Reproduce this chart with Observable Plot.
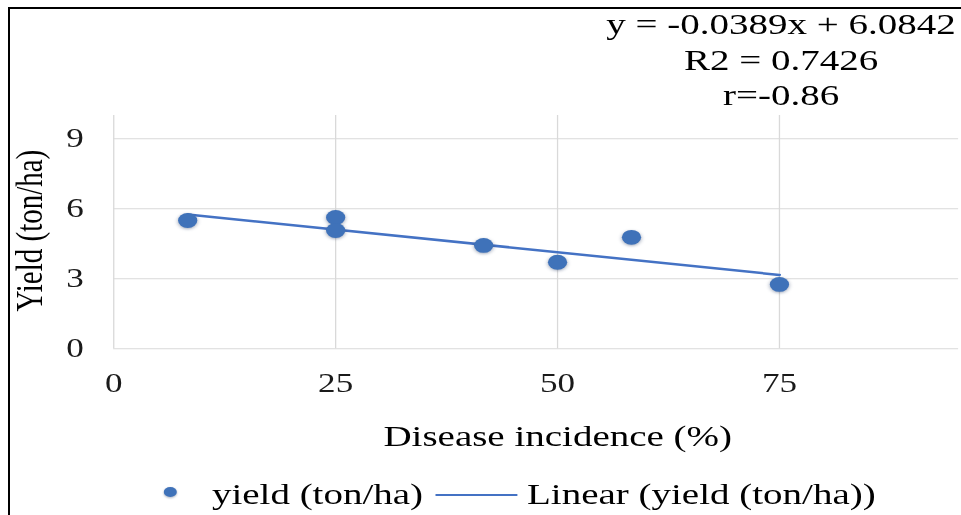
<!DOCTYPE html>
<html>
<head>
<meta charset="utf-8">
<script src="https://cdn.jsdelivr.net/npm/d3@7"></script>
<script src="https://cdn.jsdelivr.net/npm/@observablehq/plot@0.6"></script>
<style>
  html, body { margin: 0; padding: 0; background: #fff; }
  body { width: 961px; height: 515px; overflow: hidden; position: relative; font-family: "Liberation Serif", "Times New Roman", serif; }
  #frame { position: absolute; left: 8px; top: 7px; width: 980px; height: 540px; border-left: 2px solid #000; border-top: 2px solid #000; }
  #wrap { position: absolute; left: 0; top: 0; width: 739px; height: 515px; transform: scaleX(1.3); transform-origin: 0 0; }
  #chart { position: absolute; left: 0; top: 0; }
  g[aria-label="dot"] { filter: drop-shadow(0px 1px 1.5px rgba(40, 60, 100, 0.45)); }
  .eq { position: absolute; left: 600.8px; transform: translateX(-50%); white-space: nowrap; font-size: 30px; line-height: 35.5px; text-align: center; color: #000; }
  .lg { position: absolute; white-space: nowrap; font-size: 30px; line-height: 30px; color: #000; }
</style>
</head>
<body>
<div id="frame"></div>
<div id="wrap">
  <div id="chart"></div>
  <div class="eq" id="eqText" style="top:6px"></div>
  <div id="legend"></div>
</div>
<script>
// ---- data ----
const diseaseIncidence = [8.33, 25, 25, 41.67, 50, 58.33, 75];
const yieldTonHa = [5.50, 5.63, 5.07, 4.43, 3.71, 4.78, 2.76];
const xTicks = [0, 25, 50, 75];
const yTicks = [0, 3, 6, 9];
const slope = -0.0389;
const intercept = 6.0842;
const equationLines = ["y = -0.0389x + 6.0842", "R2 = 0.7426", "r=-0.86"];
const seriesName = "yield (ton/ha)";
const trendName = "Linear (yield (ton/ha))";
const xTitle = "Disease incidence (%)";
const yTitle = "Yield (ton/ha)";

const blue = "#3f72b9";
const lineBlue = "#4472c4";

const points = diseaseIncidence.map((x, i) => ({x, y: yieldTonHa[i]}));
const trend = d3.extent(diseaseIncidence).map(x => ({x, y: slope * x + intercept}));

const chart = Plot.plot({
  width: 739,
  height: 460,
  marginLeft: 87,
  marginRight: 2,
  marginTop: 115,
  marginBottom: 111.7,
  style: {fontFamily: "'Liberation Serif', 'Times New Roman', serif", background: "transparent", overflow: "visible", color: "#000"},
  x: {domain: [0, 95.2]},
  y: {domain: [0, 10]},
  marks: [
    Plot.gridX(xTicks, {stroke: "#d9d9d9", strokeOpacity: 1, strokeWidth: 1}),
    Plot.gridY(yTicks, {stroke: "#d9d9d9", strokeOpacity: 1, strokeWidth: 1}),
    Plot.axisX(xTicks, {tickSize: 0, tickPadding: 24, fontSize: 27, label: null, fill: "#1a1a1a"}),
    Plot.axisY(yTicks, {tickSize: 0, tickPadding: 23, fontSize: 27, label: null, fill: "#1a1a1a"}),
    Plot.line(trend, {x: "x", y: "y", stroke: lineBlue, strokeWidth: 2.5}),
    Plot.dot(points, {x: "x", y: "y", r: 7.4, fill: blue, stroke: "none"}),
    Plot.text([xTitle], {frameAnchor: "bottom", textAnchor: "middle", dx: 16.5, dy: 88, fontSize: 30, lineAnchor: "middle", fill: "#000"}),
    Plot.text([yTitle], {frameAnchor: "left", textAnchor: "middle", rotate: -90, dx: -64.7, dy: -1.5, fontSize: 29, lineAnchor: "middle", fill: "#000"})
  ]
});
document.getElementById("chart").appendChild(chart);

// equation block
document.getElementById("eqText").innerHTML = equationLines.map(t => `<div>${t}</div>`).join("");

// legend
const legend = document.getElementById("legend");
legend.innerHTML = `
  <div style="position:absolute;left:125.6px;top:486.8px;width:10.4px;height:10.4px;border-radius:50%;background:${blue};filter:drop-shadow(0px 1px 1px rgba(40,60,100,0.4))"></div>
  <div class="lg" style="left:163px;top:479px">${seriesName}</div>
  <div style="position:absolute;left:334.6px;top:494px;width:63px;height:2px;background:${lineBlue}"></div>
  <div class="lg" style="left:405.4px;top:479px">${trendName}</div>
`;
</script>
</body>
</html>
